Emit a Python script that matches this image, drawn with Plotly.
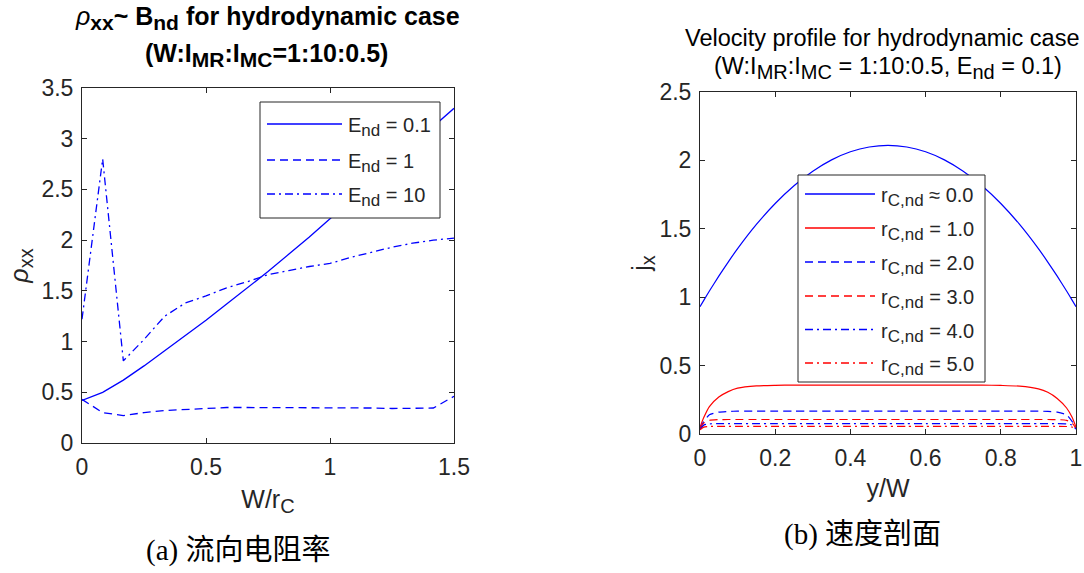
import plotly.graph_objects as go

# ---------------- data: panel (a) rho_xx vs W/r_C ----------------
w_over_rc = [0.0, 0.0833, 0.1667, 0.25, 0.3333, 0.4167, 0.5, 0.5833, 0.6667,
             0.75, 0.8333, 0.9167, 1.0, 1.0833, 1.1667, 1.25, 1.3333, 1.4167, 1.5]
rho_e01 = [0.42, 0.50, 0.62, 0.76, 0.91, 1.06, 1.21, 1.37, 1.53, 1.69, 1.86,
           2.03, 2.21, 2.39, 2.57, 2.75, 2.93, 3.12, 3.30]
rho_e1 = [0.43, 0.30, 0.27, 0.30, 0.32, 0.33, 0.34, 0.35, 0.35, 0.35, 0.35,
          0.35, 0.35, 0.345, 0.345, 0.34, 0.34, 0.345, 0.46]
rho_e10 = [1.22, 2.80, 0.81, 1.02, 1.25, 1.38, 1.45, 1.53, 1.59, 1.66, 1.70,
           1.74, 1.77, 1.83, 1.88, 1.93, 1.97, 2.00, 2.02]
e_values = ["0.1", "1", "10"]

# ---------------- data: panel (b) velocity profile ----------------
y_over_w = [0.0, 0.01, 0.025, 0.05, 0.075, 0.1, 0.15, 0.2, 0.25, 0.3, 0.35, 0.4,
            0.45, 0.5, 0.55, 0.6, 0.65, 0.7, 0.75, 0.8, 0.85, 0.9, 0.925, 0.95,
            0.975, 0.99, 1.0]
jx_r0 = [0.93, 0.977, 1.045, 1.154, 1.257, 1.355, 1.532, 1.685, 1.815, 1.921,
         2.004, 2.063, 2.098, 2.11, 2.098, 2.063, 2.004, 1.921, 1.815, 1.685,
         1.532, 1.355, 1.257, 1.154, 1.045, 0.977, 0.93]
jx_r1 = [0.05, 0.12, 0.20, 0.27, 0.31, 0.335, 0.352, 0.356, 0.357, 0.357,
         0.357, 0.357, 0.357, 0.357, 0.357, 0.357, 0.357, 0.357, 0.357, 0.355,
         0.35, 0.33, 0.305, 0.26, 0.19, 0.12, 0.05]
jx_r2 = [0.04, 0.09, 0.14, 0.16, 0.165, 0.167, 0.167, 0.167, 0.167, 0.167,
         0.167, 0.167, 0.167, 0.167, 0.167, 0.167, 0.167, 0.167, 0.167, 0.167,
         0.167, 0.167, 0.165, 0.16, 0.14, 0.09, 0.04]
jx_r3 = [0.04, 0.08, 0.10, 0.105, 0.106, 0.106, 0.106, 0.106, 0.106, 0.106,
         0.106, 0.106, 0.106, 0.106, 0.106, 0.106, 0.106, 0.106, 0.106, 0.106,
         0.106, 0.106, 0.106, 0.105, 0.10, 0.08, 0.04]
jx_r4 = [0.035, 0.065, 0.074, 0.076, 0.076, 0.076, 0.076, 0.076, 0.076, 0.076,
         0.076, 0.076, 0.076, 0.076, 0.076, 0.076, 0.076, 0.076, 0.076, 0.076,
         0.076, 0.076, 0.076, 0.076, 0.074, 0.065, 0.035]
jx_r5 = [0.03, 0.05, 0.055, 0.056, 0.056, 0.056, 0.056, 0.056, 0.056, 0.056,
         0.056, 0.056, 0.056, 0.056, 0.056, 0.056, 0.056, 0.056, 0.056, 0.056,
         0.056, 0.056, 0.056, 0.056, 0.055, 0.05, 0.03]
r_values = ["≈ 0.0", "= 1.0", "= 2.0", "= 3.0", "= 4.0", "= 5.0"]

BLUE = "rgb(0,0,255)"
RED = "rgb(255,0,0)"
DASH = "8px,5px"
DASHDOT = "8px,4px,2px,4px"
AX = "#262626"
FONT = "Liberation Sans, Arial, sans-serif"

W, H = 1084, 573


def px_x(p):
    return p / W


def px_y(p):
    return 1 - p / H


def sub(s, size):
    """Subscript with an explicit (larger than default) font size."""
    return f"<sub><span style='font-size:{size}px'>{s}</span></sub>"


e_labels = [f"E{sub('nd', 17)} = {v}" for v in e_values]
r_labels = [f"r{sub('C,nd', 17)} {v}" for v in r_values]

fig = go.Figure()

# panel (a)
a_dashes = ["solid", DASH, DASHDOT]
a_colors = [BLUE, BLUE, BLUE]
for ys, name, dash in zip([rho_e01, rho_e1, rho_e10], e_labels, a_dashes):
    fig.add_trace(go.Scatter(x=w_over_rc, y=ys, mode="lines", name=name,
                             line=dict(color=BLUE, width=1.3, dash=dash),
                             xaxis="x", yaxis="y", showlegend=False))

# panel (b)
r_series = [jx_r0, jx_r1, jx_r2, jx_r3, jx_r4, jx_r5]
r_colors = [BLUE, RED, BLUE, RED, BLUE, RED]
r_dashes = ["solid", "solid", DASH, DASH, DASHDOT, DASHDOT]
for ys, name, col, dash in zip(r_series, r_labels, r_colors, r_dashes):
    fig.add_trace(go.Scatter(x=y_over_w, y=ys, mode="lines", name=name,
                             line=dict(color=col, width=1.2, dash=dash, shape="spline",
                                       smoothing=0.6),
                             xaxis="x2", yaxis="y2", showlegend=False))

axis_common = dict(showline=True, mirror="ticks", linecolor=AX, linewidth=1,
                   ticks="inside", ticklen=5, tickcolor=AX, showgrid=False,
                   zeroline=False, automargin=False,
                   tickfont=dict(family=FONT, size=23, color=AX))
TITLE_FONT = dict(family=FONT, size=25, color=AX)

fig.update_layout(
    width=W, height=H,
    margin=dict(l=0, r=0, t=0, b=0),
    paper_bgcolor="white", plot_bgcolor="white",
    font=dict(family=FONT, color=AX),
    showlegend=False,
    xaxis=dict(domain=[px_x(82), px_x(454)], range=[0, 1.5],
               tickvals=[0, 0.5, 1, 1.5], ticktext=["0", "0.5", "1", "1.5"],
               anchor="y", ticklabelstandoff=3,
               title=dict(text="W/r" + sub("C", 20), font=TITLE_FONT, standoff=11),
               **axis_common),
    yaxis=dict(domain=[px_y(443), px_y(88)], range=[0, 3.5],
               tickvals=[0, 0.5, 1, 1.5, 2, 2.5, 3, 3.5],
               ticktext=["0", "0.5", "1", "1.5", "2", "2.5", "3", "3.5"],
               anchor="x", ticklabelstandoff=3,
               title=dict(text="<i>ρ</i>" + sub("xx", 20), font=TITLE_FONT, standoff=5),
               **axis_common),
    xaxis2=dict(domain=[px_x(700), px_x(1076)], range=[0, 1],
                tickvals=[0, 0.2, 0.4, 0.6, 0.8, 1],
                ticktext=["0", "0.2", "0.4", "0.6", "0.8", "1"],
                anchor="y2", ticklabelstandoff=3,
                title=dict(text="y/W", font=TITLE_FONT, standoff=9),
                **axis_common),
    yaxis2=dict(domain=[px_y(434), px_y(92)], range=[0, 2.5],
                tickvals=[0, 0.5, 1, 1.5, 2, 2.5],
                ticktext=["0", "0.5", "1", "1.5", "2", "2.5"],
                anchor="x2", ticklabelstandoff=3,
                title=dict(text="j" + sub("x", 20), font=TITLE_FONT, standoff=1),
                **axis_common),
)


def add_key(box, sample_x0, sample_x1, text_x, row_y, labels, colors, dashes):
    """Boxed key: white panel with a border, one line sample and label per row."""
    x0, y0, x1, y1 = box
    fig.add_shape(type="rect", xref="paper", yref="paper",
                  x0=px_x(x0), x1=px_x(x1), y0=px_y(y1), y1=px_y(y0),
                  fillcolor="white", line=dict(color=AX, width=1), layer="above")
    for i, (lab, col, dash) in enumerate(zip(labels, colors, dashes)):
        yy = row_y[i]
        fig.add_shape(type="line", xref="paper", yref="paper",
                      x0=px_x(sample_x0), x1=px_x(sample_x1),
                      y0=px_y(yy), y1=px_y(yy),
                      line=dict(color=col, width=1.3, dash=dash), layer="above")
        fig.add_annotation(x=px_x(text_x), y=px_y(yy + 3), xref="paper", yref="paper",
                           xanchor="left", yanchor="middle", showarrow=False,
                           text=lab, font=dict(family=FONT, size=20, color=AX))


add_key((260, 102, 440, 218), 267, 342, 346, [124, 160, 194],
        e_labels, a_colors, a_dashes)
add_key((798, 175, 985, 382), 805, 875, 879,
        [194, 228, 262, 296, 329.5, 363], r_labels, r_colors, r_dashes)

# panel titles
fig.add_annotation(x=px_x(267), y=px_y(18), xref="paper", yref="paper",
                   xanchor="center", yanchor="middle", showarrow=False,
                   text="<i>ρ</i><b>" + sub("xx", 21) + "~ B" + sub("nd", 21)
                        + " for hydrodynamic case</b>",
                   font=dict(family=FONT, size=25, color="black"))
fig.add_annotation(x=px_x(266), y=px_y(55), xref="paper", yref="paper",
                   xanchor="center", yanchor="middle", showarrow=False,
                   text="<b>(W:I" + sub("MR", 21) + ":I" + sub("MC", 21) + "=1:10:0.5)</b>",
                   font=dict(family=FONT, size=25, color="black"))
fig.add_annotation(x=px_x(882), y=px_y(38), xref="paper", yref="paper",
                   xanchor="center", yanchor="middle", showarrow=False,
                   text="Velocity profile for hydrodynamic case",
                   font=dict(family=FONT, size=23.5, color="black"))
fig.add_annotation(x=px_x(888), y=px_y(68), xref="paper", yref="paper",
                   xanchor="center", yanchor="middle", showarrow=False,
                   text="(W:I" + sub("MR", 20) + ":I" + sub("MC", 20) + " = 1:10:0.5, E"
                        + sub("nd", 20) + " = 0.1)",
                   font=dict(family=FONT, size=23.5, color="black"))

# captions
CAP_FONT = "Liberation Serif, Noto Sans CJK SC, serif"
fig.add_annotation(x=px_x(238), y=px_y(550), xref="paper", yref="paper",
                   xanchor="center", yanchor="middle", showarrow=False,
                   text="(a) 流向电阻率", font=dict(family=CAP_FONT, size=29, color="black"))
fig.add_annotation(x=px_x(862), y=px_y(534), xref="paper", yref="paper",
                   xanchor="center", yanchor="middle", showarrow=False,
                   text="(b) 速度剖面", font=dict(family=CAP_FONT, size=29, color="black"))

fig.write_html("out.html")
